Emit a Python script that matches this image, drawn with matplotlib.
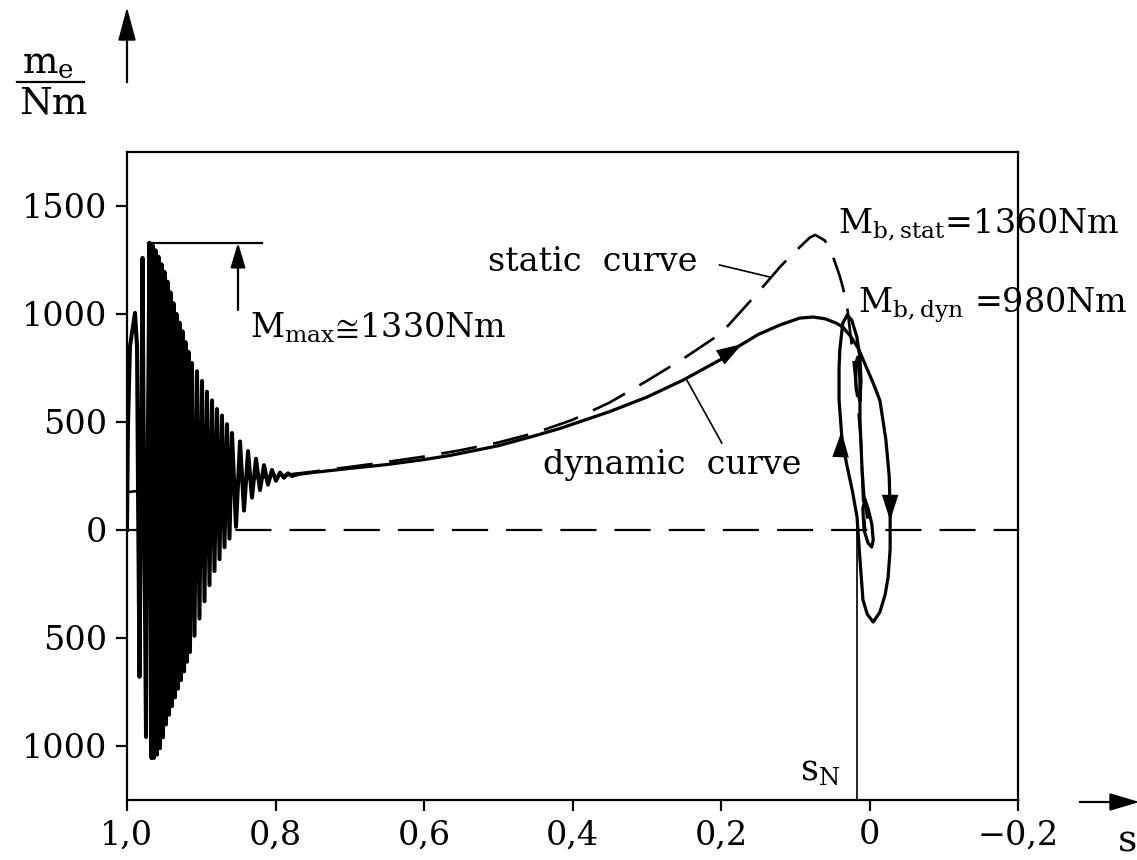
import matplotlib
matplotlib.use("Agg")
import matplotlib.pyplot as plt
from matplotlib.lines import Line2D

plt.rcParams['font.family'] = ['DejaVu Serif', 'DejaVu Sans']
plt.rcParams['mathtext.fontset'] = 'dejavuserif'
plt.rcParams['lines.scale_dashes'] = False

# starting oscillation (extrema), slip s vs torque m_e
osc_s = [1.0, 0.9987, 0.9960, 0.9892, 0.9865, 0.9852, 0.9832, 0.9811, 0.9791, 0.9771, 0.9744,
         0.9724, 0.9697, 0.9670,
         0.9657, 0.9636, 0.9616, 0.9596, 0.9576, 0.9556, 0.9535, 0.9515, 0.9495, 0.9475,
         0.9455, 0.9434, 0.9414, 0.9394, 0.9374, 0.9354, 0.9333, 0.9313, 0.9293, 0.9273,
         0.9253, 0.9232, 0.9212, 0.9192, 0.9172, 0.9152,
         0.9125, 0.9091, 0.9057, 0.9024, 0.8990, 0.8956, 0.8923, 0.8889, 0.8855, 0.8822,
         0.8788, 0.8754, 0.8721, 0.8687, 0.8653, 0.8620,
         0.8586, 0.8532, 0.8478, 0.8424, 0.8370, 0.8317, 0.8263, 0.8209, 0.8155, 0.8101,
         0.8047, 0.7993, 0.7939, 0.7886, 0.7832, 0.7778, 0.7724]
osc_m = [0, 480, 850, 1005, 850, 200, -680, 200, 1260, 200, -958,
         200, 1330, -1056,
         1320, -1055, 1295, -1040, 1265, -1010, 1230, -960, 1195, -900,
         1150, -855, 1100, -815, 1050, -775, 1000, -735, 960, -695,
         920, -655, 870, -610, 825, -565,
         773, -490, 735, -410, 690, -330, 640, -255, 600, -190,
         560, -135, 530, -80, 490, -40,
         449, 15, 410, 90, 365, 150, 330, 185, 300, 210,
         278, 228, 266, 242, 262, 250, 256]

# run-up and final swings around the operating point
dyn_s = [0.7724, 0.75, 0.70, 0.65, 0.60, 0.565, 0.50, 0.45, 0.417, 0.35, 0.30, 0.251, 0.20,
         0.178, 0.15, 0.12, 0.094, 0.076, 0.06, 0.045, 0.036, 0.025, 0.015, 0.005, -0.005,
         -0.014, -0.022, -0.0265, -0.0278, -0.0278, -0.025, -0.021, -0.014, -0.005, 0.003,
         0.0088, 0.0128, 0.0168, 0.023, 0.030, 0.037, 0.041, 0.041, 0.040, 0.036, 0.030,
         0.024, 0.017, 0.013, 0.0114, 0.0128, 0.018, 0.019, 0.016, 0.013, 0.0128, 0.010,
         0.0074, 0.002, -0.003, -0.005, -0.003, 0.002, 0.0074, 0.009, 0.006, 0.003]
dyn_m = [256, 266, 285, 303, 326, 345, 390, 437, 470, 548, 615, 694, 790,
         847, 905, 950, 981, 986, 978, 958, 940, 895, 840, 760, 680,
         600, 420, 250, 100, -90, -220, -300, -380, -426, -390,
         -324, -139, 60, 180, 292, 417, 602, 750, 833, 958, 995,
         972, 894, 800, 694, 600, 650, 760, 800, 700, 509, 278,
         153, 100, 30, -46, -79, -60, 0, 100, 139, 60]

# static torque-slip curve
stat_s = [1.0, 0.95, 0.90, 0.85, 0.80, 0.75, 0.70, 0.65, 0.60, 0.55, 0.50, 0.45, 0.40, 0.35,
          0.30, 0.25, 0.20, 0.15, 0.12, 0.10, 0.08, 0.073, 0.06, 0.049, 0.04, 0.036, 0.03,
          0.022, 0.017, 0.0114, 0.0088, 0.006]
stat_m = [175, 195, 215, 232, 250, 270, 292, 315, 340, 370, 405, 450, 510, 590,
          690, 795, 910, 1100, 1220, 1290, 1355, 1366, 1340, 1264, 1175, 1125, 1030,
          800, 634, 403, 153, 0]

s_N = 0.0168
m_max = 1330
xticks = [1.0, 0.8, 0.6, 0.4, 0.2, 0.0, -0.2]
xlabels = ['1,0', '0,8', '0,6', '0,4', '0,2', '0', '\u22120,2']
yticks = [1500, 1000, 500, 0, -500, -1000]
ylabels = ['1500', '1000', '500', '0', '500', '1000']

fs = 24

fig = plt.figure(figsize=(11.37, 8.6), dpi=100)
ax = fig.add_axes([127/1137, 1 - 800/860, 891/1137, 648/860])

ax.plot(osc_s, osc_m, color='k', lw=2.9, solid_joinstyle='round')
ax.plot(dyn_s, dyn_m, color='k', lw=2.3, solid_joinstyle='round')
ax.plot(stat_s, stat_m, color='k', lw=1.9, ls=(0, (26, 12)))
ax.axhline(0, color='k', lw=1.6, ls=(0, (26, 13)))
ax.plot([s_N, s_N], [-1250, 50], color='k', lw=1.2)

ax.set_xlim(1.0, -0.2)
ax.set_ylim(-1250, 1750)
ax.set_xticks(xticks)
ax.set_xticklabels(xlabels)
ax.set_yticks(yticks)
ax.set_yticklabels(ylabels)
ax.tick_params(direction='out', length=8, width=1.6, labelsize=fs, pad=6)
for sp in ax.spines.values():
    sp.set_linewidth(1.6)

# arrows along the dynamic curve
arrow_kw = dict(arrowstyle='-|>,head_length=1.1,head_width=0.35', color='k', lw=0,
                mutation_scale=17)
ax.annotate('', xy=(0.168, 868), xytext=(0.190, 822), arrowprops=arrow_kw)
ax.annotate('', xy=(0.0375, 470), xytext=(0.0385, 380), arrowprops=arrow_kw)
ax.annotate('', xy=(-0.0278, 30), xytext=(-0.0278, 140), arrowprops=arrow_kw)

# M_max marker
ax.plot([0.9717, 0.818], [m_max, m_max], color='k', lw=1.6)
ax.annotate('', xy=(0.8505, m_max), xytext=(0.8505, 1019),
            arrowprops=dict(arrowstyle='-|>,head_length=1.0,head_width=0.3', color='k', lw=1.6,
                            mutation_scale=15, shrinkA=0, shrinkB=0))
ax.text(0.834, 935, r'$\mathrm{M_{max}}\!\cong\!$1330Nm', fontsize=fs, va='center', ha='left')

ax.text(0.514, 1241, 'static  curve', fontsize=fs, va='center', ha='left')
ax.plot([0.202, 0.134], [1227, 1171], color='k', lw=1.2)
ax.text(0.0424, 1412, r'$\mathrm{M_{b,stat}}$=1360Nm', fontsize=fs, va='center', ha='left')
ax.text(0.0155, 1042, r'$\mathrm{M_{b,dyn}}$ =980Nm', fontsize=fs, va='center', ha='left')
ax.text(0.4397, 301, 'dynamic  curve', fontsize=fs, va='center', ha='left')
ax.plot([0.246, 0.199], [694, 403], color='k', lw=1.2)
ax.text(0.0936, -1111, r'$\mathrm{s_N}$', fontsize=fs + 1, va='center', ha='left')

# axis titles with arrows, placed in figure pixels
W, H = 1137, 860
fig.text(48/W, 1 - 62/H, r'$\mathrm{m_e}$', fontsize=27, ha='center', va='center')
fig.add_artist(Line2D([17/W, 84/W], [1 - 82/H, 1 - 82/H], color='k', lw=1.6))
fig.text(53/W, 1 - 103/H, 'Nm', fontsize=27, ha='center', va='center')
fig.add_artist(Line2D([127/W, 127/W], [1 - 82/H, 1 - 40/H], color='k', lw=1.6))
fig.patches.append(plt.Polygon([[119/W, 1 - 40/H], [135/W, 1 - 40/H], [127/W, 1 - 10/H]],
                               closed=True, color='k', transform=fig.transFigure))
fig.add_artist(Line2D([1080/W, 1110/W], [1 - 802/H, 1 - 802/H], color='k', lw=1.6))
fig.patches.append(plt.Polygon([[1110/W, 1 - 794/H], [1110/W, 1 - 810/H], [1137/W, 1 - 802/H]],
                               closed=True, color='k', transform=fig.transFigure))
fig.text(1127/W, 1 - 842/H, 's', fontsize=27, ha='center', va='center')

fig.savefig('out.png', dpi=100)
